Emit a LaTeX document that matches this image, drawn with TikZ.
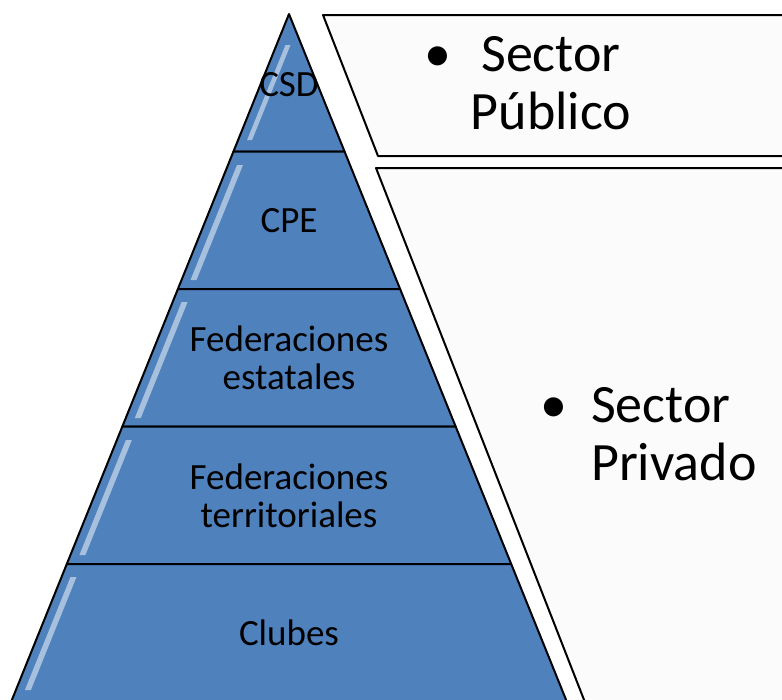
\documentclass[tikz,border=0pt]{standalone}
\usepackage{fontspec}
\setmainfont{Carlito}
\definecolor{layerblue}{HTML}{4F81BD}
\definecolor{panelgrey}{HTML}{FBFBFB}
\tikzset{
    layer/.style ={
        draw=black,
        line width=2pt,
        line join=round,
        fill=layerblue
    },
    shine/.style ={
        fill=white,
        opacity=0.5
    },
    panel/.style ={
        draw=black,
        line width=2pt,
        line join=round,
        fill=panelgrey
    },
    layertext/.style ={
        align=center,
        inner sep=0pt,
        font=\fontsize{37}{38}\selectfont
    },
    sectortext/.style ={
        inner sep=0pt,
        font=\fontsize{54}{58}\selectfont
    }
}
\begin{document}
\begin{tikzpicture}[x=1pt,y=-1pt]

        \useasboundingbox (0,0) rectangle (782,699);
        \clip (0,0) rectangle (782,699);

        % pyramid layers
        \draw[layer] (289,14)--(344.55,151.5)--(233.45,151.5)--cycle;
        \draw[layer] (233.45,151.5)--(344.55,151.5)--(400.1,289)--(177.9,289)--cycle;
        \draw[layer] (177.9,289)--(400.1,289)--(455.65,426.5)--(122.35,426.5)--cycle;
        \draw[layer] (122.35,426.5)--(455.65,426.5)--(511.2,564)--(66.8,564)--cycle;
        \draw[layer] (66.8,564)--(511.2,564)--(566.75,701.5)--(11.25,701.5)--cycle;
        \fill[shine] (285.5,45)--(290.5,45)--(252.1,140)--(247.1,140)--cycle;
        \fill[shine] (237,165)--(243,165)--(196.5,280)--(190.5,280)--cycle;
        \fill[shine] (181.6,302)--(187.6,302)--(140.8,418)--(134.8,418)--cycle;
        \fill[shine] (125.9,440)--(131.9,440)--(85.4,555)--(79.4,555)--cycle;
        \fill[shine] (70.5,577)--(76.5,577)--(30.9,690)--(24.9,690)--cycle;

        % sector panels
        \draw[panel] (323,15)--(830,15)--(830,156)--(378,156)--cycle;
        \draw[panel] (376,168)--(830,168)--(830,710)--(588,710)--cycle;

        \node[layertext] (CSD) at(289,85) {CSD};
        \node[layertext] (CPE) at(289,221) {CPE};
        \node[layertext] (FEDEST) at(289,358) {Federaciones\\estatales};
        \node[layertext] (FEDTER) at(289,496) {Federaciones\\territoriales};
        \node[layertext] (CLUBES) at(289,633) {Clubes};

        \node[sectortext,align=center] (PUBLICO) at(551,83)
            {\llap{\textbullet\hspace{30pt}}Sector\\Público};
        \node[sectortext,align=left,anchor=west] (PRIVADO) at(591,434)
            {\llap{\textbullet\hspace{24pt}}Sector\\Privado};
    \end{tikzpicture}
\end{document}
